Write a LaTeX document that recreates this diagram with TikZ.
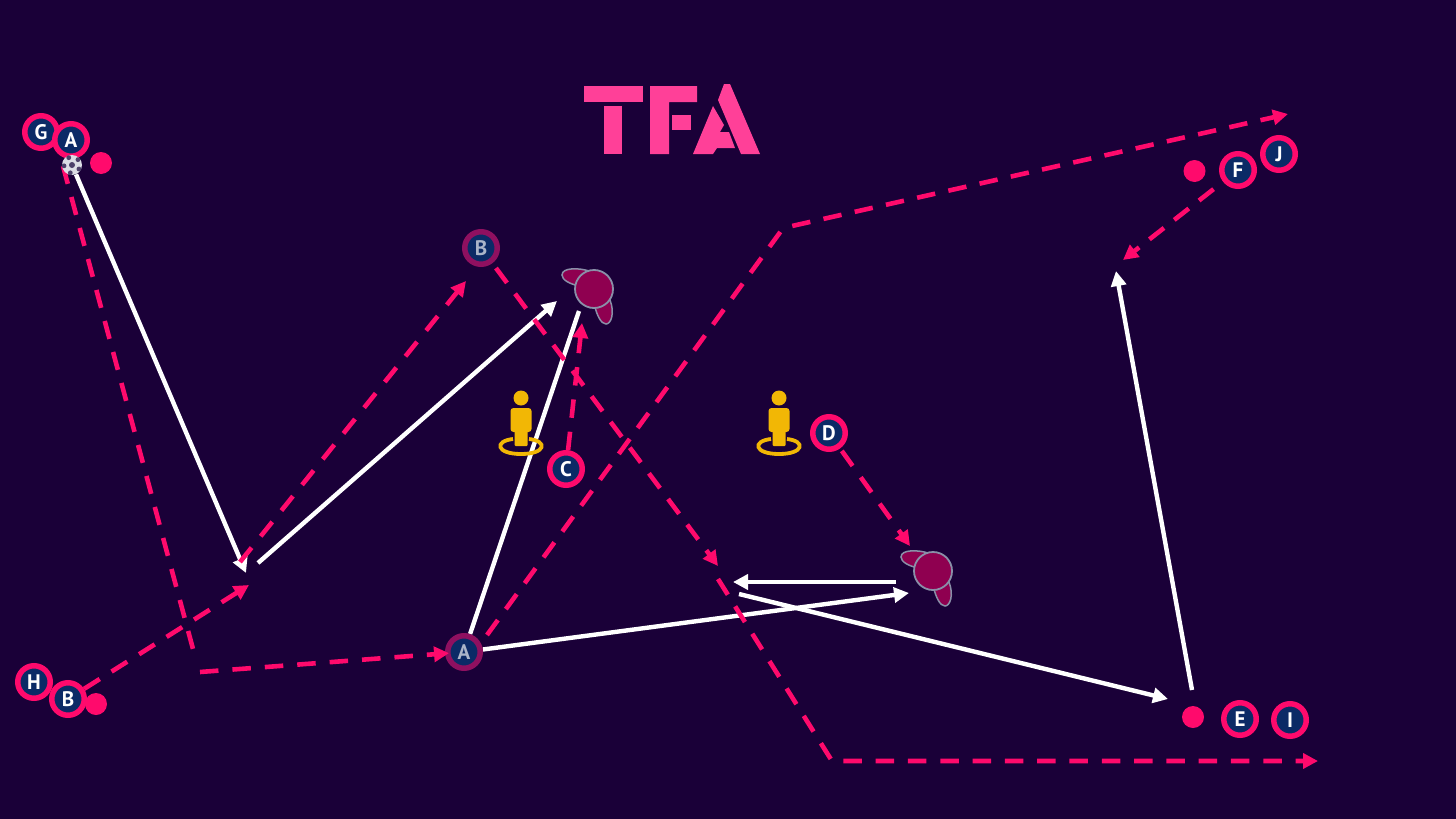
\documentclass[tikz,border=0pt]{standalone}
\usepackage{fontspec}
\setmainfont{PT Sans}
\usetikzlibrary{arrows.meta}
\pgfdeclarelayer{under}
\pgfsetlayers{under,main}
\definecolor{bgc}{HTML}{1A0038}
\definecolor{pinkc}{HTML}{FF0A6C}
\definecolor{navyc}{HTML}{0B2A66}
\definecolor{logoc}{HTML}{FF4098}
\definecolor{yellowc}{HTML}{F2B705}
\definecolor{maroonc}{HTML}{8F0050}
\definecolor{greyc}{HTML}{8A8FA8}
\definecolor{fadec}{HTML}{8F1060}
\tikzset{
 player/.style={circle,draw=pinkc,line width=5.5pt,fill=navyc,minimum size=32.5pt,inner sep=0pt,text=white,font=\fontsize{21}{21}\selectfont\bfseries},
 faded/.style={player,draw=fadec,text=white!65!navyc},
 dotc/.style={circle,fill=pinkc,minimum size=22pt,inner sep=0pt},
 run/.style={pinkc,line width=4.6pt,dash pattern=on 18.5pt off #1pt},
 run/.default=14,
 runarrow/.style={run=#1,-{Triangle[length=15pt,width=15pt]}},
 runarrow/.default=14,
 pass/.style={white,line width=4.4pt},
 passarrow/.style={pass,-{Triangle[length=15pt,width=15pt]}},
 coach/.style={circle,draw=greyc,line width=1.8pt,fill=maroonc,minimum size=38pt,inner sep=0pt},
 limb/.style={draw=greyc,line width=1.5pt,fill=maroonc},
 figpart/.style={fill=yellowc},
 logopart/.style={fill=logoc},
}
\newcommand{\manikin}[2]{%
 \begin{scope}[shift={(#1,#2)}]
  \draw[yellowc,line width=3.8pt] (-8,49) .. controls (-27,51) and (-25,64) .. (0,64) .. controls (25,64) and (27,51) .. (8,49);
  \fill[figpart] (0,8) circle (7.5);
  \fill[figpart,rounded corners=3pt] (-10.5,18) rectangle (10.5,42);
  \fill[figpart,rounded corners=1pt] (-6.5,38) rectangle (6.5,56);
 \end{scope}}
\newcommand{\limbs}[2]{%
 \begin{scope}[shift={(#1,#2)}]
  \draw[limb] (-5,-18) .. controls (-14,-21) and (-32,-22) .. (-32,-14) .. controls (-32,-9) and (-24,-5) .. (-15,-3) -- cycle;
  \draw[limb] (1,18) .. controls (3,26) and (7,35) .. (12,35) .. controls (17,35) and (21,24) .. (16,11) -- cycle;
 \end{scope}}
\begin{document}
\begin{tikzpicture}[x=1pt,y=-1pt]
\useasboundingbox (0,0) rectangle (1456,819);
\begin{pgfonlayer}{under}
\fill[bgc] (0,0) rectangle (1456,819);
\end{pgfonlayer}
% logo
\fill[logopart] (584,86) rectangle (643,102);
\fill[logopart] (604,106) rectangle (622,154);
\fill[logopart] (650,86) -- (697,86) -- (697,102) -- (669,102) -- (669,154) -- (650,154) -- cycle;
\fill[logopart] (672,115) rectangle (691,130);
\fill[logopart] (724,84) -- (730,84) -- (760,154) -- (741,154) -- (718,100) -- cycle;
\fill[logopart] (713,106) -- (724,125) -- (720,132) -- (729,132) -- (735,148) -- (717,148) -- (713,154) -- (693,154) -- cycle;
% free ends
\coordinate (p1) at (246,573);
\coordinate (p2s) at (258,563);
\coordinate (p2e) at (557,301);
\coordinate (p3e) at (579,311);
\coordinate (p4e) at (909,593);
\coordinate (p5s) at (896,582);
\coordinate (p5e) at (733,582);
\coordinate (p6s) at (739,594);
\coordinate (p6e) at (1168,699);
\coordinate (p7s) at (1192,690);
\coordinate (p7e) at (1116,271);
\coordinate (r1s) at (63,166);
\coordinate (r1m) at (193,649);
\coordinate (r1n) at (200,672);
\coordinate (r2e) at (249,585);
\coordinate (r3s) at (240,562);
\coordinate (r3e) at (466,281);
\coordinate (r4e) at (718,566);
\coordinate (r5s) at (718,579);
\coordinate (r5m) at (832,761);
\coordinate (r5e) at (1318,761);
\coordinate (r6e) at (582,323);
\coordinate (r7s) at (487,635);
\coordinate (r7m) at (781,231);
\coordinate (r7n) at (792,226);
\coordinate (r7e) at (1288,114);
\coordinate (r8e) at (910,546);
\coordinate (r9e) at (1123,260);
% yellow figures
\manikin{521}{390}
\manikin{779}{390}
% maroon figures
\limbs{594}{289}
\limbs{933}{571}
\node[coach] (cA) at (594,289) {};
\node[coach] (cB) at (933,571) {};
% dots
\node[dotc] (d1) at (101,163) {};
\node[dotc] (d2) at (96,704) {};
\node[dotc] (d3) at (1194.5,171) {};
\node[dotc] (d4) at (1193,717) {};
% players
\node[player] (G) at (41,132) {G};
\node[player] (A1) at (71,140) {A};
\node[player] (H) at (34,682) {H};
\node[player] (B2) at (68,699) {B};
\node[faded] (B1) at (481,248) {B};
\node[faded] (A2) at (464,652) {A};
\node[player] (C) at (566,469) {C};
\node[player] (D) at (829,433) {D};
\node[player] (F) at (1238,170) {F};
\node[player] (J) at (1279,154) {J};
\node[player] (E) at (1240,719) {E};
\node[player] (I) at (1290,720) {I};
% ball
\node[circle,fill=white!70!greyc,minimum size=20pt,inner sep=0pt] (ball) at (72,165) {};
\fill[bgc!55!greyc] (72,165) circle (3);
\foreach \a in {30,102,174,246,318} \fill[bgc!55!greyc] (72,165) ++(\a:8) circle (2.4);
\draw[runarrow,shorten >=-4pt] (r1n) -- (A2);
\begin{pgfonlayer}{under}
% passes
\draw[passarrow] (ball) -- (p1);
\draw[passarrow] (p2s) -- (p2e);
\draw[pass] (A2) -- (p3e);
\draw[passarrow] (A2) -- (p4e);
\draw[passarrow] (p5s) -- (p5e);
\draw[passarrow] (p6s) -- (p6e);
\draw[passarrow] (p7s) -- (p7e);
% runs
\draw[run=13.6] (r1s) -- (r1m);
\draw[runarrow] (B2) -- (r2e);
\draw[runarrow=14.5] (r3s) -- (r3e);
\draw[runarrow=13.5,shorten <=6pt] (B1) -- (r4e);
\draw[runarrow=13.8] (r5s) -- (r5m) -- (r5e);
\draw[runarrow] (C) -- (r6e);
\draw[runarrow=13.5] (r7s) -- (r7m) -- (r7n) -- (r7e);
\draw[runarrow,shorten <=3pt] (D) -- (r8e);
\draw[runarrow=13,shorten <=12pt] (F) -- (r9e);
\end{pgfonlayer}
\end{tikzpicture}
\end{document}
